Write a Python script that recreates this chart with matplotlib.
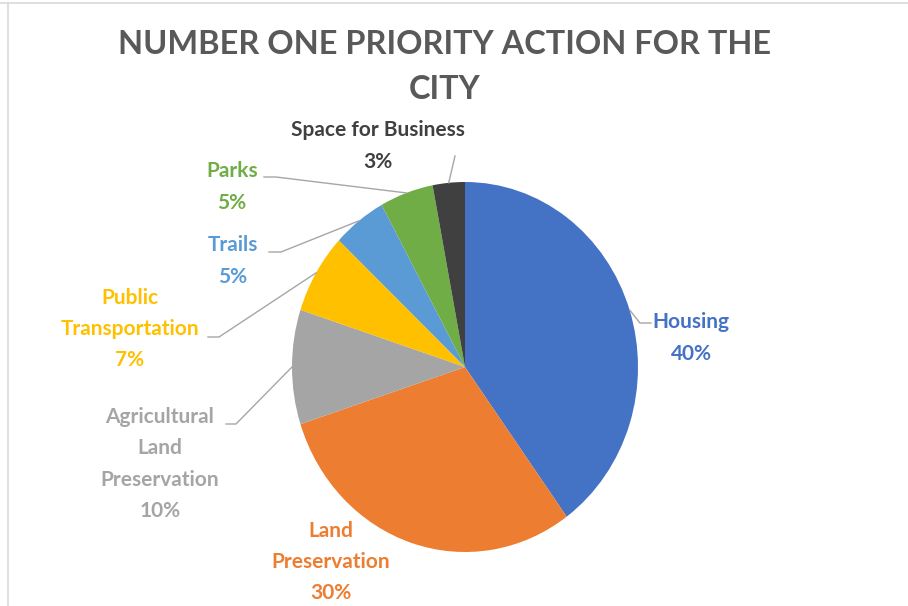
import numpy as np
import matplotlib
matplotlib.use("Agg")
import matplotlib.pyplot as plt
from matplotlib.lines import Line2D

# data, clockwise from 12 o'clock
CATEGORIES = ["Housing", "Land Preservation", "Agricultural Land Preservation",
              "Public Transportation", "Trails", "Parks", "Space for Business"]
LABEL_NAMES = ["Housing", "Land\nPreservation", "Agricultural\nLand\nPreservation",
               "Public\nTransportation", "Trails", "Parks", "Space for Business"]
VALUES = [40, 30, 10, 7, 5, 5, 3]
COLORS = ["#4472C4", "#ED7D31", "#A5A5A5", "#FFC000", "#5B9BD5", "#70AD47", "#404040"]
TITLE = "NUMBER ONE PRIORITY ACTION FOR THE\nCITY"

W, H = 908, 606
FONT = "Lato"

# pie ellipse in pixels (image is slightly stretched vertically)
CX, CY, RX, RY = 465, 367, 173, 185

# label centers (pixels) and leader line anchor on the label side
LABEL_POS = {
    "Housing": (691, 338),
    "Land Preservation": (331, 562),
    "Agricultural Land Preservation": (160, 464),
    "Public Transportation": (130, 329),
    "Trails": (233, 261),
    "Parks": (232, 187),
    "Space for Business": (378, 146),
}
LEADERS = {
    "Housing": [(651, 323), (640, 323)],
    "Agricultural Land Preservation": [(226, 424), (236, 424)],
    "Public Transportation": [(208, 337), (219, 337)],
    "Trails": [(269, 252), (281, 252)],
    "Parks": [(264, 177), (276, 177)],
    "Space for Business": [(455, 156)],
}

fig = plt.figure(figsize=(W / 100, H / 100), dpi=100)
fig.patch.set_facecolor("white")

ax_pie = fig.add_axes([(CX - RX) / W, (H - CY - RY) / H, 2 * RX / W, 2 * RY / H])
ax_pie.pie(VALUES, colors=COLORS, startangle=90, counterclock=False,
           wedgeprops=dict(linewidth=0))
ax_pie.set_aspect("auto")
ax_pie.set_xlim(-1, 1)
ax_pie.set_ylim(-1, 1)
ax_pie.axis("off")

ov = fig.add_axes([0, 0, 1, 1], zorder=5)
ov.set_xlim(0, W)
ov.set_ylim(H, 0)
ov.axis("off")
ov.patch.set_alpha(0)

# screenshot frame
fig.add_artist(Line2D([0, 1], [1 - 3 / H, 1 - 3 / H], color="#D9D9D9", lw=1.2))
fig.add_artist(Line2D([8 / W, 8 / W], [0, 1 - 3 / H], color="#D9D9D9", lw=1.2))

ov.text(445, 67, TITLE, ha="center", va="center", fontsize=23.4, fontweight="bold",
        color="#595959", family=FONT, linespacing=1.67)

total = sum(VALUES)
start = 90.0
for name, label, val, col in zip(CATEGORIES, LABEL_NAMES, VALUES, COLORS):
    sweep = 360.0 * val / total
    mid = np.deg2rad(start - sweep / 2)
    start -= sweep
    lx, ly = LABEL_POS[name]
    ov.text(lx, ly, f"{label}\n{val}%", ha="center", va="center", fontsize=15,
            fontweight="bold", color=col, family=FONT, linespacing=1.7)
    if name in LEADERS:
        px = CX + RX * np.cos(mid)
        py = CY - RY * np.sin(mid)
        pts = LEADERS[name] + [(px, py)]
        ov.plot([p[0] for p in pts], [p[1] for p in pts], color="#A6A6A6", lw=1)

fig.savefig("out.png", dpi=100, facecolor="white")
